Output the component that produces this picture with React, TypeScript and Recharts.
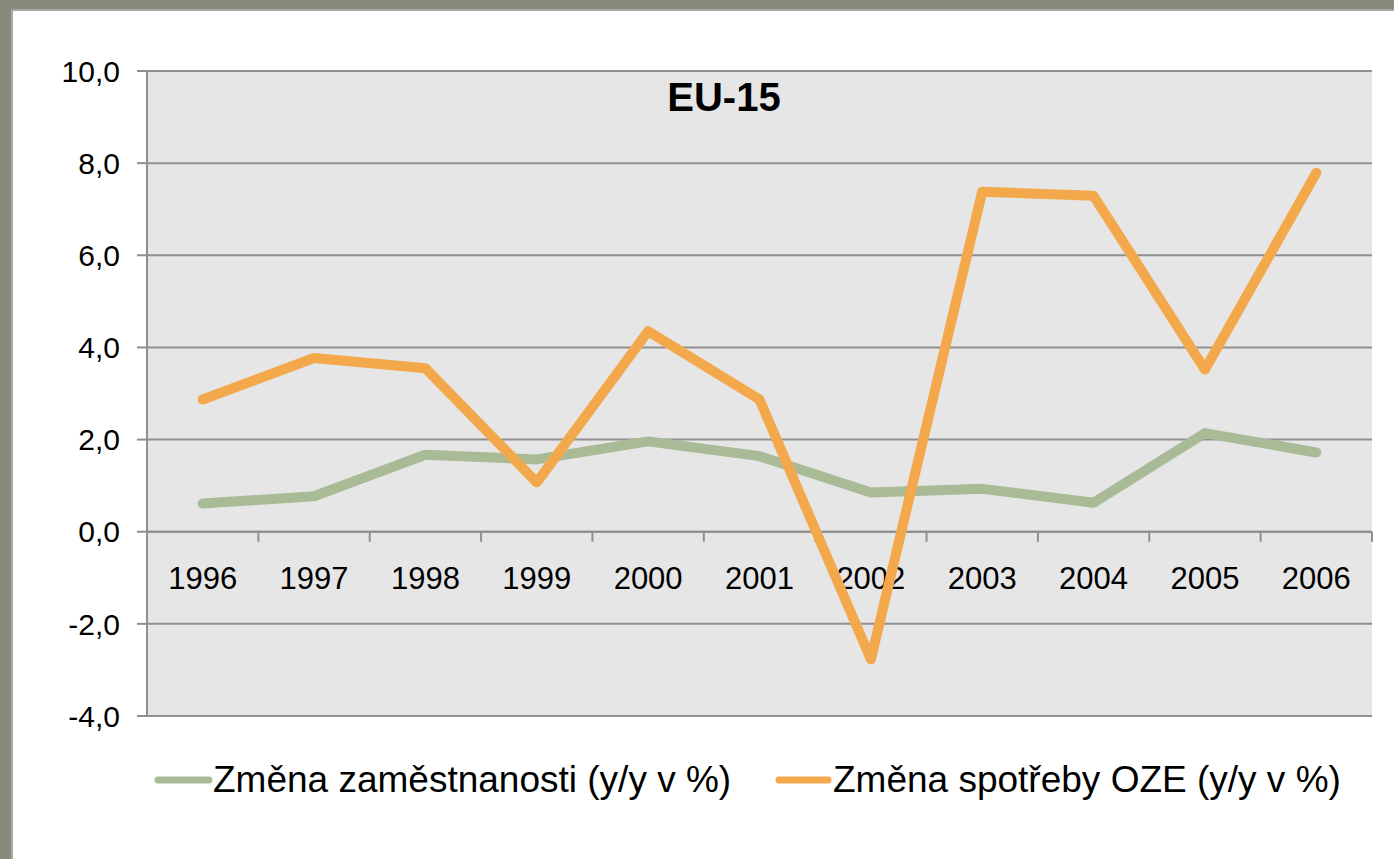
import React from "react";
import { LineChart, Line, XAxis, YAxis, CartesianGrid, ReferenceLine } from "recharts";

const years = ["1996", "1997", "1998", "1999", "2000", "2001", "2002", "2003", "2004", "2005", "2006"];
const employment = [0.61, 0.77, 1.67, 1.57, 1.96, 1.64, 0.85, 0.93, 0.63, 2.14, 1.72];
const renewables = [2.87, 3.77, 3.55, 1.07, 4.35, 2.87, -2.77, 7.38, 7.29, 3.52, 7.79];
const yTicks = [-4, -2, 0, 2, 4, 6, 8, 10];
const seriesNames = ["Změna zaměstnanosti (y/y v %)", "Změna spotřeby OZE (y/y v %)"];
const title = "EU-15";

const GREEN = "#a9ba96";
const ORANGE = "#f3a94b";
const GRID = "#8f8f8f";
const FONT = '"Liberation Sans", Arial, sans-serif';

const rows = years.map((year, i) => ({ year, emp: employment[i], oze: renewables[i] }));

const fmt = (v: number) => v.toFixed(1).replace(".", ",");

// x axis sits on the zero line, Excel style: ticks between categories, labels below
function ZeroAxis(props: any) {
  const { x1, x2, y1 } = props;
  if (x1 == null || y1 == null) return null;
  const bw = (x2 - x1) / years.length;
  return (
    <g>
      <line x1={x1} x2={x2} y1={y1} y2={y1} stroke={GRID} strokeWidth={2} />
      {years.map((_, i) => (
        <line key={"t" + i} x1={x1 + (i + 1) * bw} x2={x1 + (i + 1) * bw} y1={y1} y2={y1 + 10} stroke={GRID} strokeWidth={2} />
      ))}
      {years.map((yr, i) => (
        <text key={"l" + i} x={x1 + (i + 0.5) * bw} y={y1 + 57} textAnchor="middle" fontSize={31} fill="#000" fontFamily={FONT}>
          {yr}
        </text>
      ))}
    </g>
  );
}

export default function App() {
  return (
    <div style={{ position: "fixed", left: 0, top: 0, width: 1394, height: 859, background: "#878b7a", overflow: "hidden", fontFamily: FONT }}>
      <div style={{ position: "absolute", left: 11, top: 9, width: 1383, height: 850, background: "#fff", borderTop: "2px solid #a8a8a8", borderLeft: "2px solid #a8a8a8", boxSizing: "border-box" }} />
      <div style={{ position: "absolute", left: 0, top: 0 }}>
        <LineChart width={1394} height={859} data={rows} margin={{ top: 71, right: 22, bottom: 143, left: 67 }}>
          <CartesianGrid vertical={false} stroke={GRID} strokeWidth={2} fill="#e6e6e6" fillOpacity={1} />
          <XAxis dataKey="year" scale="band" hide />
          <YAxis
            domain={[-4, 10]}
            ticks={yTicks}
            width={80}
            tickFormatter={fmt}
            axisLine={{ stroke: GRID, strokeWidth: 2 }}
            tickLine={{ stroke: GRID, strokeWidth: 2 }}
            tickSize={10}
            tickMargin={17}
            tick={{ fontSize: 30, fill: "#000", fontFamily: FONT }}
          />
          <ReferenceLine y={0} shape={ZeroAxis} />
          <Line dataKey="emp" name={seriesNames[0]} stroke={GREEN} strokeWidth={10} strokeLinecap="round" strokeLinejoin="round" dot={false} isAnimationActive={false} />
          <Line dataKey="oze" name={seriesNames[1]} stroke={ORANGE} strokeWidth={10} strokeLinecap="round" strokeLinejoin="round" dot={false} isAnimationActive={false} />
        </LineChart>
      </div>
      <svg width={1394} height={859} style={{ position: "absolute", left: 0, top: 0, pointerEvents: "none" }}>
        <text x={724} y={111} textAnchor="middle" fontSize={40} fontWeight="bold" fill="#000" fontFamily={FONT}>
          {title}
        </text>
        <line x1={158} x2={209} y1={780} y2={780} stroke={GREEN} strokeWidth={7} strokeLinecap="round" />
        <text x={213} y={792} fontSize={37} fill="#000" fontFamily={FONT}>{seriesNames[0]}</text>
        <line x1={779} x2={828} y1={780} y2={780} stroke={ORANGE} strokeWidth={7} strokeLinecap="round" />
        <text x={833} y={792} fontSize={37} fill="#000" fontFamily={FONT}>{seriesNames[1]}</text>
      </svg>
    </div>
  );
}
